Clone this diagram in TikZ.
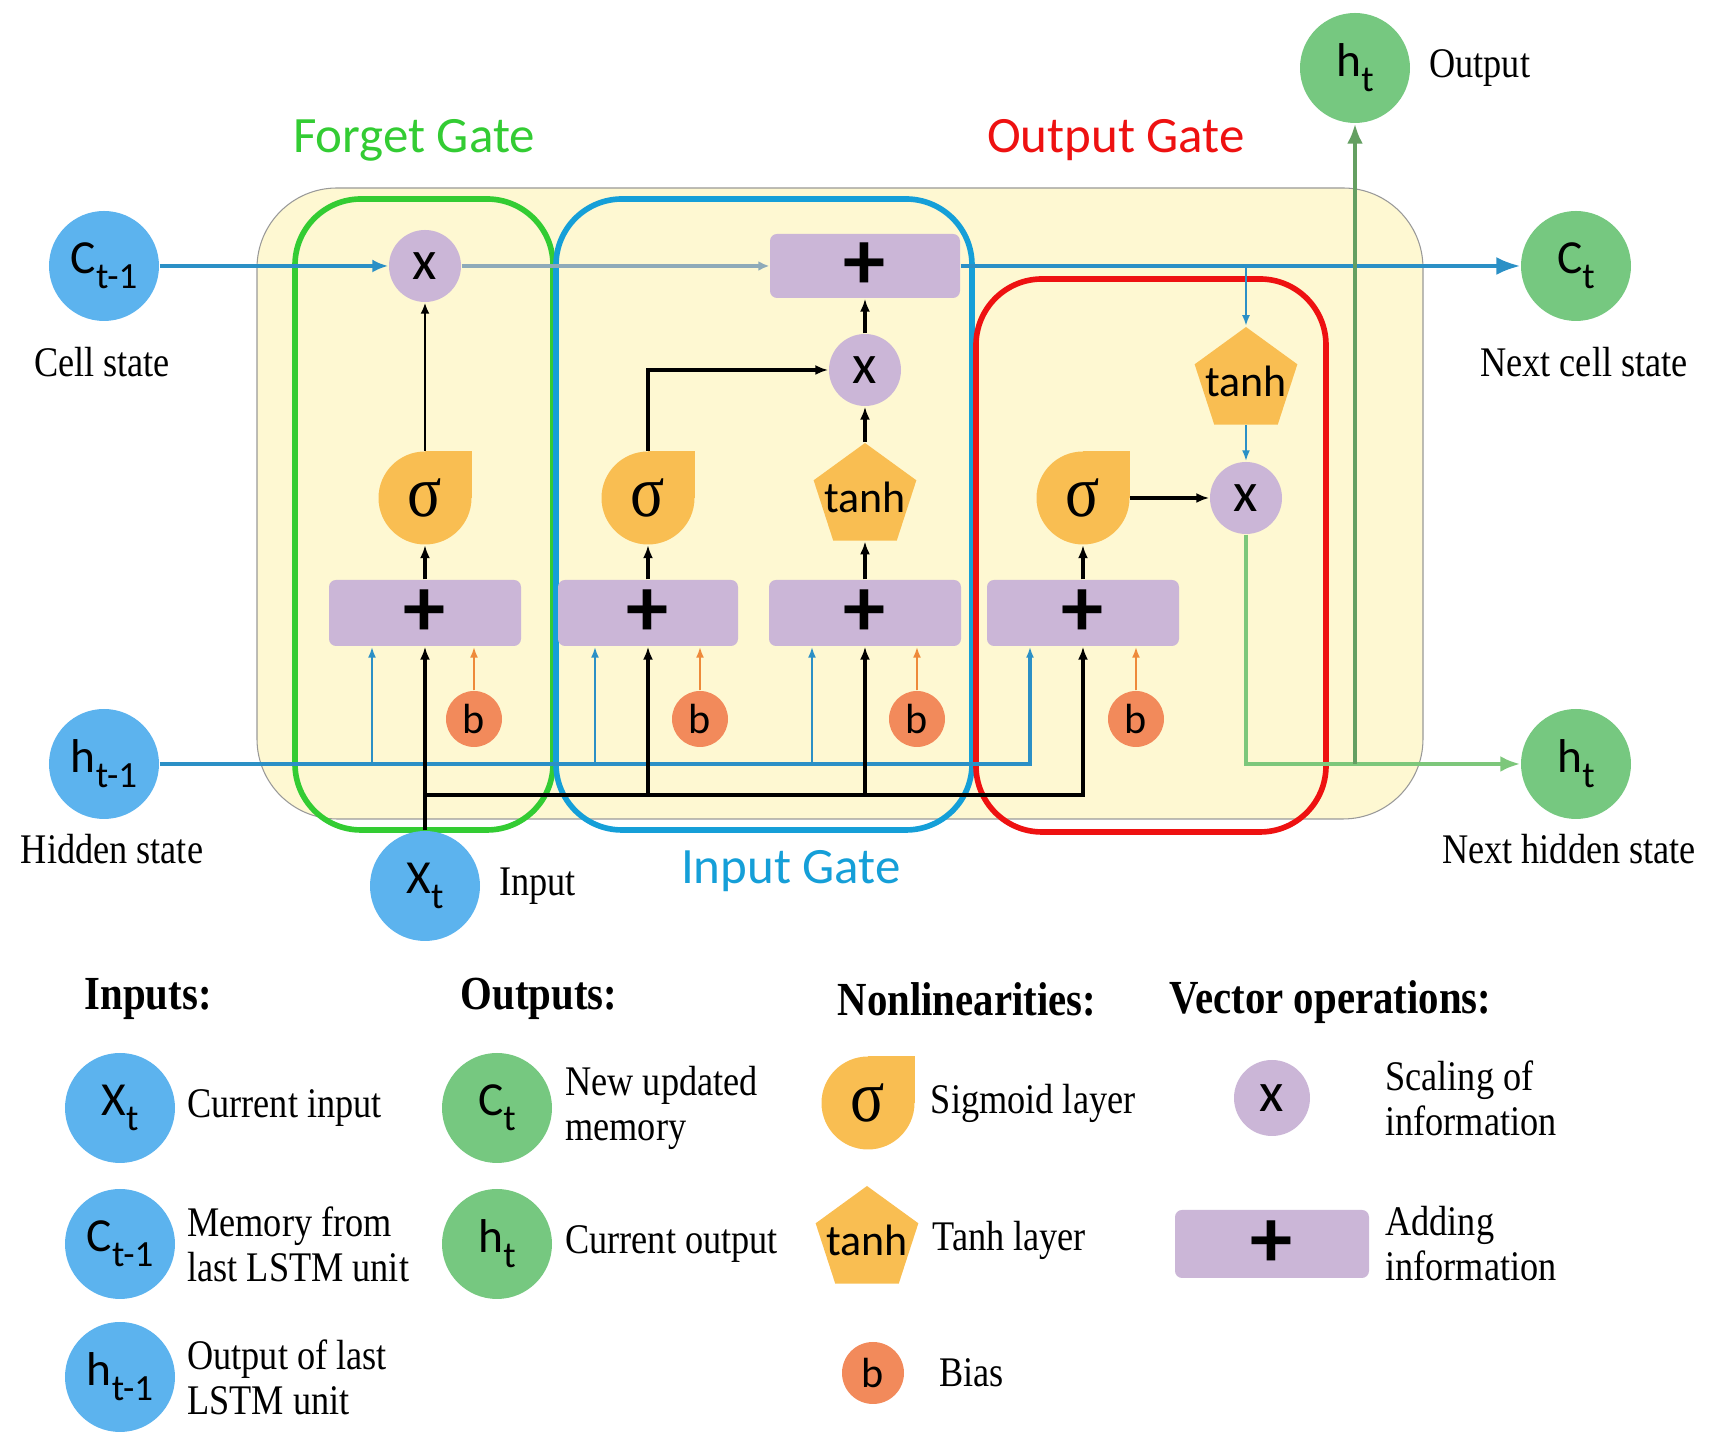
\documentclass[tikz,border=0pt]{standalone}
\usepackage{fontspec}
\setmainfont{Liberation Serif}[FakeStretch=0.86]
\newfontfamily\labelfont{Carlito}
\usepackage{graphicx}
\usepackage{xcolor}
\usetikzlibrary{positioning,arrows.meta,calc,shapes.geometric}

\definecolor{cellbg}{HTML}{FEF8D2}
\definecolor{opcol}{HTML}{CBB6D7}
\definecolor{layercol}{HTML}{F9BE52}
\definecolor{biascol}{HTML}{F28A5B}
\definecolor{incol}{HTML}{5CB3EE}
\definecolor{outcol}{HTML}{76C880}
\definecolor{lineblue}{HTML}{2B90C6}
\definecolor{linegreen}{HTML}{7DC77B}
\definecolor{biasline}{HTML}{EE8A3A}
\definecolor{forgetcol}{HTML}{33CC33}
\definecolor{inputcol}{HTML}{159FD8}
\definecolor{outputcol}{HTML}{EE1111}

\newcommand{\lo}[1]{\raisebox{-0.32em}{\fontsize{10.5}{10.5}\selectfont #1}}

\begin{document}
\begin{tikzpicture}[
  txt/.style={font=\fontsize{12}{12.8}\selectfont, align=left, inner sep=0pt},
  head/.style={font=\fontsize{13.5}{14}\selectfont\bfseries, anchor=west, inner sep=0pt},
  gatetitle/.style={font=\labelfont\fontsize{14.5}{15}\selectfont, inner sep=0pt},
  vec/.style={circle, fill=#1, minimum size=1.1cm, inner sep=0pt, font=\labelfont\fontsize{13.5}{14}\selectfont},
  mul/.style={circle, fill=opcol, minimum size=0.72cm, inner sep=0pt, font=\labelfont\fontsize{16}{16}\selectfont},
  add/.style={rectangle, rounded corners=2pt, fill=opcol, minimum width=1.92cm, minimum height=0.66cm, inner sep=0pt, font=\labelfont\bfseries\fontsize{24}{24}\selectfont},
  sig/.style={circle, fill=layercol, minimum size=0.93cm, inner sep=0pt, font=\fontsize{21}{21}\selectfont},
  tanhl/.style={regular polygon, regular polygon sides=5, fill=layercol, minimum size=1.08cm, inner sep=0pt, font=\labelfont\fontsize{12.5}{12}\selectfont},
  bias/.style={circle, fill=biascol, minimum size=0.56cm, inner sep=0pt, font=\labelfont\fontsize{12}{12}\selectfont},
  gate/.style={draw=#1, line width=1.6pt, rounded corners=0.66cm},
  cellln/.style={draw=lineblue, line width=1pt},
  blk/.style={line width=1.1pt, -{Latex[length=1.3mm,width=1mm]}},
  hin/.style={draw=lineblue, line width=0.8pt, -{Latex[length=1.1mm,width=0.8mm]}},
  bin/.style={draw=biasline, line width=0.8pt, -{Latex[length=1.1mm,width=0.8mm]}},
  grn/.style={draw=linegreen, line width=1.2pt, -{Latex[length=2mm,width=1.6mm]}},
]
\useasboundingbox (0,0) rectangle (17.16,14.40);
% cell body
\draw[fill=cellbg, draw=black!40, line width=0.3pt, rounded corners=0.8cm] (2.57,6.21) rectangle (14.23,12.52);
% gates
\draw[gate=forgetcol] (2.95,6.10) rectangle (5.53,12.41);
\draw[gate=inputcol] (5.56,6.10) rectangle (9.72,12.41);
\draw[gate=outputcol] (9.76,6.08) rectangle (13.26,11.61);
\node[gatetitle, text=forgetcol] (tForget) at (4.14,13.00) {Forget Gate};
\node[gatetitle, text=outputcol] (tOutput) at (11.16,13.00) {Output Gate};
\node[gatetitle, text=inputcol] (tInput) at (7.91,5.69) {Input Gate};
% square corner of the sigmoid layers
\foreach \p in {(4.25,9.42),(6.48,9.42),(10.83,9.42),(8.68,3.37)}
  \fill[layercol] \p rectangle ++(0.465,0.465);
% states outside the cell
\node[vec=incol] (ctm1) at (1.04,11.74) {C\lo{t-1}};
\node[vec=incol] (htm1) at (1.04,6.76) {h\lo{t-1}};
\node[vec=incol] (xt) at (4.25,5.54) {X\lo{t}};
\node[vec=outcol] (ct) at (15.76,11.74) {C\lo{t}};
\node[vec=outcol] (ht) at (15.76,6.76) {h\lo{t}};
\node[vec=outcol] (htop) at (13.55,13.72) {h\lo{t}};
\node[txt] (lCell) at (1.02,10.78) {Cell state};
\node[txt] (lHid) at (1.12,5.91) {Hidden state};
\node[txt, right=0.18cm of xt] (lIn) {Input};
\node[txt] (lNextC) at (15.84,10.78) {Next cell state};
\node[txt] (lNextH) at (15.69,5.91) {Next hidden state};
\node[txt, right=0.18cm of htop] (lOut) {Output};
% forget gate
\node[mul] (fx) at (4.25,11.74) {x};
\node[sig] (fs) at (4.25,9.42) {σ};
\node[add] (fp) at (4.25,8.27) {+};
\node[bias] (fb) at (4.74,7.21) {b};
% input gate
\node[sig] (is) at (6.48,9.42) {σ};
\node[add, minimum width=1.80cm] (ip) at (6.48,8.27) {+};
\node[bias] (ib) at (7.00,7.21) {b};
\node[tanhl] (it) at (8.65,9.43) {\makebox[0pt]{tanh}};
\node[add] (cp) at (8.65,8.27) {+};
\node[bias] (cb) at (9.17,7.21) {b};
\node[mul] (ix) at (8.65,10.70) {x};
\node[add, minimum width=1.90cm, minimum height=0.64cm] (cadd) at (8.65,11.74) {+};
% output gate
\node[sig] (os) at (10.83,9.42) {σ};
\node[add] (op) at (10.83,8.27) {+};
\node[bias] (ob) at (11.36,7.21) {b};
\node[tanhl] (ot) at (12.46,10.59) {\makebox[0pt]{tanh}};
\node[mul] (ox) at (12.46,9.42) {x};
% cell state line
\draw[cellln, -{Latex[length=1.6mm,width=1.3mm]}] (ctm1) -- (fx);
\draw[draw=lineblue!40!gray!70, line width=1pt, -{Latex[length=1.1mm,width=1mm]}] (fx) -- (cadd);
\draw[cellln, -{Latex[length=2.4mm,width=1.8mm]}] (cadd) -- (ct);
\draw[hin] (cadd -| ot) -- (ot);
% hidden state bus
\draw[cellln, -{Latex[length=1.1mm,width=0.8mm]}] (htm1) -| ($(op.south)+(-0.53,0)$);
\foreach \g in {fp,ip,cp}
  \draw[hin] ($(\g.south |- htm1)+(-0.53,0)$) -- ($(\g.south)+(-0.53,0)$);
% bias inputs
\foreach \b/\g in {fb/fp,ib/ip,cb/cp,ob/op}
  \draw[bin] (\b) -- (\b |- \g.south);
% input bus
\coordinate (xbus) at (4.25,6.45);
\draw[blk] (xt) -- (fp);
\draw[blk] (xbus) -| (op);
\foreach \g in {ip,cp}
  \draw[blk] (xbus -| \g) -- (\g);
% inside the gates
\draw[blk] (fp) -- (fs);
\draw[line width=0.6pt, -{Latex[length=1.1mm,width=0.9mm]}] (fs) -- (fx);
\draw[blk] (ip) -- (is);
\draw[blk] (is.north) |- (ix);
\draw[blk] (cp) -- (it);
\draw[blk] (it) -- (ix);
\draw[blk] (ix) -- (cadd);
\draw[blk] (op) -- (os);
\draw[blk] (os) -- (ox);
\draw[hin] (ot) -- (ox);
% hidden output
\draw[grn] (ox) |- (ht);
\draw[grn, draw=linegreen!80!black] (htop |- ht) -- (htop);
% legend
\node[head] (hdIn) at (0.84,4.41) {Inputs:};
\node[head] (hdOut) at (4.60,4.41) {Outputs:};
\node[head] (hdNon) at (8.37,4.41) {Nonlinearities:};
\node[head] (hdVec) at (11.69,4.38) {Vector operations:};
\node[vec=incol] (kxt) at (1.20,3.32) {X\lo{t}};
\node[txt, right=1.1mm of kxt] (kxtT) {Current input};
\node[vec=incol] (kct) at (1.20,1.96) {C\lo{t-1}};
\node[txt, right=1.1mm of kct] (kctT) {Memory from\\last LSTM unit};
\node[vec=incol] (kht) at (1.20,0.63) {h\lo{t-1}};
\node[txt, right=1.1mm of kht] (khtT) {Output of last\\LSTM unit};
\node[vec=outcol] (kcn) at (4.97,3.32) {C\lo{t}};
\node[txt, right=1.2mm of kcn] (kcnT) {New updated\\memory};
\node[vec=outcol] (khn) at (4.97,1.96) {h\lo{t}};
\node[txt, right=1.2mm of khn] (khnT) {Current output};
\node[sig] (ksig) at (8.68,3.37) {σ};
\node[txt, right=1.5mm of ksig] (ksigT) {Sigmoid layer};
\node[tanhl] (ktanh) at (8.67,2.00) {\makebox[0pt]{tanh}};
\node[txt, right=1.8mm of ktanh] (ktanhT) {Tanh layer};
\node[bias, minimum size=0.62cm] (kb) at (8.73,0.67) {b};
\node[txt, right=3.4mm of kb] (kbT) {Bias};
\node[mul, minimum size=0.76cm] (kmul) at (12.72,3.42) {x};
\node[txt, right=7.4mm of kmul] (kmulT) {Scaling of\\information};
\node[add, minimum width=1.94cm, minimum height=0.68cm] (kadd) at (12.72,1.96) {+};
\node[txt, right=1.5mm of kadd] (kaddT) {Adding\\information};
\end{tikzpicture}
\end{document}
